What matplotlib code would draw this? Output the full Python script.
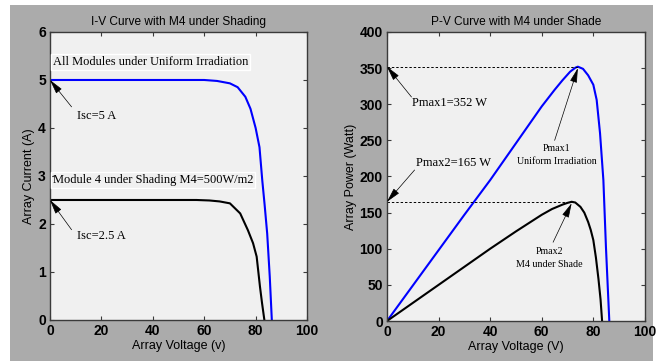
import matplotlib
matplotlib.use("Agg")
import matplotlib.pyplot as plt
from matplotlib.patches import Rectangle

# I-V data, uniform irradiation
v_iv_uniform = [0, 10, 20, 30, 40, 50, 60, 65, 70, 73, 76, 78, 80, 81.5, 82.6, 83.5, 84.5, 85.5, 86.3]
i_uniform = [5, 5, 5, 5, 5, 5, 5, 4.98, 4.93, 4.85, 4.65, 4.4, 4.0, 3.6, 2.9, 2.4, 1.8, 0.9, 0]

# I-V data, module 4 shaded
v_iv_shade = [0, 10, 20, 30, 40, 50, 57, 62, 66, 70, 74, 77, 79, 80.4, 81.7, 82.5, 83.4]
i_shade = [2.5, 2.5, 2.5, 2.5, 2.5, 2.5, 2.5, 2.49, 2.47, 2.43, 2.22, 1.87, 1.6, 1.32, 0.69, 0.35, 0]

# P-V data
v_pv_uniform = [0, 10, 20, 30, 40, 50, 60, 65, 68, 71, 73, 74, 76, 78, 80, 81.3, 82.6, 83.9, 84.9, 86.2]
p_uniform = [0, 49, 98, 147, 195, 246, 297, 320, 333, 345, 350.5, 352, 349, 340, 327, 306, 260, 195, 102, 0]

v_pv_shade = [0, 10, 20, 30, 40, 50, 60, 64, 68, 70, 71.6, 73, 75, 76.5, 78, 79, 80, 81, 82, 82.8, 83.4]
p_shade = [0, 25, 50, 75, 100, 124, 147, 155, 161, 163.5, 165, 164, 158, 150, 137, 126, 112, 88, 58, 30, 0]

isc = [5, 2.5]
pmax = [352, 165]
v_mpp = [74, 71.6]

serif = ["Liberation Serif", "DejaVu Serif"]
sans = ["Liberation Sans", "DejaVu Sans"]

fig = plt.figure(figsize=(6.63, 3.61), dpi=100)
fig.patch.set_facecolor("white")
fig.add_artist(Rectangle((0.015, 0.0), 0.97, 0.986, transform=fig.transFigure,
                         facecolor="#ababab", edgecolor="none", zorder=-10))

ax1 = fig.add_axes([0.0754, 0.1136, 0.3877, 0.7978])
ax2 = fig.add_axes([0.5837, 0.1108, 0.389, 0.8006])

for ax in (ax1, ax2):
    ax.set_facecolor("#f0f0f0")
    for s in ax.spines.values():
        s.set_color("#3a3a3a")
        s.set_linewidth(1.0)
    ax.tick_params(direction="in", length=3, width=0.8, color="#3a3a3a",
                   top=True, right=True, pad=3)
    ax.set_xlim(0, 100)
    ax.set_xticks(range(0, 101, 20))

def style_ticks(ax):
    for lab in ax.get_xticklabels() + ax.get_yticklabels():
        lab.set_family(sans)
        lab.set_fontsize(10)
        lab.set_fontweight("bold")

arrow = dict(arrowstyle="-|>,head_length=0.9,head_width=0.22", color="black",
             lw=0.5, shrinkA=0, shrinkB=0)

# I-V panel
ax1.plot(v_iv_uniform, i_uniform, color="#0000ff", lw=1.5)
ax1.plot(v_iv_shade, i_shade, color="black", lw=1.5)
ax1.set_ylim(0, 6)
ax1.set_yticks(range(0, 7))
style_ticks(ax1)
ax1.set_title("I-V Curve with M4 under Shading", family=sans, fontsize=8.6, pad=5)
ax1.set_xlabel("Array Voltage (v)", family=sans, fontsize=9, labelpad=1)
ax1.set_ylabel("Array Current (A)", family=sans, fontsize=9, labelpad=2)

box = dict(boxstyle="square,pad=0.15", facecolor="none", edgecolor="white", lw=1)
ax1.text(1.0, 5.38, "All Modules under Uniform Irradiation", family=serif,
         fontsize=8.9, va="center", ha="left", bbox=box)
ax1.text(1.0, 2.92, "Module 4 under Shading M4=500W/m2", family=serif,
         fontsize=8.9, va="center", ha="left", bbox=box)
ax1.annotate("", xy=(0, isc[0]), xytext=(8.4, 4.44), arrowprops=arrow)
ax1.text(10.4, 4.24, f"Isc={isc[0]} A", family=serif, fontsize=9, va="center")
ax1.annotate("", xy=(0, isc[1]), xytext=(8.4, 1.88), arrowprops=arrow)
ax1.text(10.4, 1.74, f"Isc={isc[1]} A", family=serif, fontsize=9, va="center")

# P-V panel
ax2.plot(v_pv_uniform, p_uniform, color="#0000ff", lw=1.5)
ax2.plot(v_pv_shade, p_shade, color="black", lw=1.5)
ax2.set_ylim(0, 400)
ax2.set_yticks(range(0, 401, 50))
style_ticks(ax2)
ax2.set_title("P-V Curve with M4 under Shade", family=sans, fontsize=8.6, pad=5)
ax2.set_xlabel("Array Voltage (V)", family=sans, fontsize=9, labelpad=1)
ax2.set_ylabel("Array Power (Watt)", family=sans, fontsize=9, labelpad=2)

# dashed guides from the maximum power points to the power axis
for vm, pm in zip(v_mpp, pmax):
    ax2.plot([0, vm], [pm, pm], color="black", lw=0.7, ls=(0, (2.5, 2)))

ax2.annotate("", xy=(0, pmax[0]), xytext=(9.5, 310), arrowprops=arrow)
ax2.text(9.8, 302, f"Pmax1={pmax[0]} W", family=serif, fontsize=9, va="center")
ax2.annotate("", xy=(0, pmax[1]), xytext=(10.7, 209), arrowprops=arrow)
ax2.text(11.4, 219, f"Pmax2={pmax[1]} W", family=serif, fontsize=9, va="center")

ax2.annotate("", xy=(v_mpp[0], pmax[0] - 2), xytext=(65, 250), arrowprops=arrow)
ax2.text(65.7, 230, "Pmax1\nUniform Irradiation", family=serif, fontsize=7.2,
         ha="center", va="center", linespacing=1.5)
ax2.annotate("", xy=(v_mpp[1], pmax[1] - 2), xytext=(64.4, 109), arrowprops=arrow)
ax2.text(63.1, 87, "Pmax2\nM4 under Shade", family=serif, fontsize=7.2,
         ha="center", va="center", linespacing=1.5)

fig.savefig("out.png", dpi=100, facecolor=fig.get_facecolor())
